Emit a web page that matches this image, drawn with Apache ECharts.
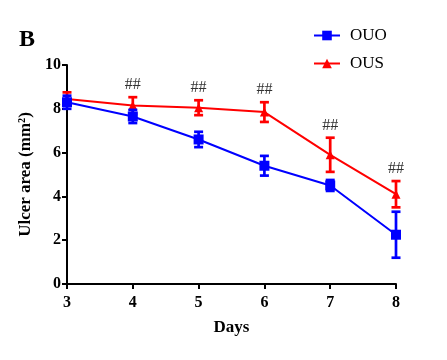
<!DOCTYPE html>
<html><head><meta charset="utf-8">
<script src="https://cdn.jsdelivr.net/npm/echarts@6/dist/echarts.min.js"></script>
<style>html,body{margin:0;padding:0;background:#fff}#c{width:447px;height:360px}</style>
</head><body><div id="c"></div>
<script>
var days = [3, 4, 5, 6, 7, 8];
var ouoMean = [8.3, 7.65, 6.6, 5.4, 4.5, 2.25];
var ouoErr = [0.3, 0.3, 0.35, 0.45, 0.25, 1.05];
var ousMean = [8.45, 8.15, 8.05, 7.85, 5.9, 4.1];
var ousErr = [0.3, 0.38, 0.34, 0.45, 0.78, 0.6];
var sigLabels = ['', '##', '##', '##', '##', '##'];
var yTicks = [0, 2, 4, 6, 8, 10];

var FONT = '"Liberation Serif", "Times New Roman", serif';
var chart = echarts.init(document.getElementById('c'));

function errData(mean, err, labels) {
  return days.map(function (d, i) { return [d, mean[i] - err[i], mean[i] + err[i], labels ? labels[i] : '']; });
}
function errRender(color) {
  return function (params, api) {
    var x = api.value(0);
    var lo = api.coord([x, api.value(1)]);
    var hi = api.coord([x, api.value(2)]);
    var w = 4.5;
    var st = { stroke: color, lineWidth: 2.7 };
    var children = [
      { type: 'line', shape: { x1: lo[0], y1: lo[1], x2: hi[0], y2: hi[1] }, style: st },
      { type: 'line', shape: { x1: lo[0] - w, y1: lo[1], x2: lo[0] + w, y2: lo[1] }, style: st },
      { type: 'line', shape: { x1: hi[0] - w, y1: hi[1], x2: hi[0] + w, y2: hi[1] }, style: st }
    ];
    var lbl = api.value(3);
    if (lbl) {
      children.push({ type: 'text', style: { text: lbl, x: hi[0], y: hi[1] - 12, align: 'center', verticalAlign: 'middle', fill: '#333', font: '16px ' + FONT } });
    }
    return { type: 'group', children: children };
  };
}

chart.setOption({
  animation: false,
  graphic: [{ type: 'text', left: 19, top: 28, style: { text: 'B', font: 'bold 24px ' + FONT, fill: '#000' } }],
  legend: {
    data: ['OUO', 'OUS'], orient: 'vertical', left: 308, top: 22, itemGap: 11, itemWidth: 26, itemHeight: 12,
    textStyle: { fontFamily: FONT, fontSize: 17, color: '#000', padding: [0, 0, 0, 5] }
  },
  grid: { left: 67, right: 51, top: 65, bottom: 76 },
  xAxis: {
    type: 'value', min: 3, max: 8, interval: 1,
    name: 'Days', nameLocation: 'middle', nameGap: 35,
    nameTextStyle: { fontFamily: FONT, fontSize: 17, fontWeight: 'bold', color: '#000' },
    axisLine: { lineStyle: { color: '#000', width: 2 } },
    axisTick: { length: 5, lineStyle: { color: '#000', width: 2 } },
    axisLabel: { fontFamily: FONT, fontSize: 16, fontWeight: 'bold', color: '#000', margin: 11 },
    splitLine: { show: false }
  },
  yAxis: {
    type: 'value', min: 0, max: 10, interval: 2,
    name: 'Ulcer area (mm²)', nameLocation: 'middle', nameGap: 31,
    nameTextStyle: { fontFamily: FONT, fontSize: 17, fontWeight: 'bold', color: '#000' },
    axisLine: { show: true, lineStyle: { color: '#000', width: 2 } },
    axisTick: { show: true, length: 5, lineStyle: { color: '#000', width: 2 } },
    axisLabel: { fontFamily: FONT, fontSize: 16, fontWeight: 'bold', color: '#000', margin: 6,
      formatter: function (v) { return yTicks.indexOf(v) >= 0 ? String(v) : ''; } },
    splitLine: { show: false }
  },
  series: [
    { name: 'OUS', type: 'line', data: days.map(function (d, i) { return [d, ousMean[i]]; }),
      symbol: 'triangle', symbolSize: 9, itemStyle: { color: '#ff0000' }, lineStyle: { color: '#ff0000', width: 2 }, z: 2 },
    { name: 'OUS_err', type: 'custom', data: errData(ousMean, ousErr, sigLabels), renderItem: errRender('#ff0000'), z: 2, silent: true },
    { name: 'OUO', type: 'line', data: days.map(function (d, i) { return [d, ouoMean[i]]; }),
      symbol: 'rect', symbolSize: 10, itemStyle: { color: '#0000ff' }, lineStyle: { color: '#0000ff', width: 2 }, z: 3 },
    { name: 'OUO_err', type: 'custom', data: errData(ouoMean, ouoErr), renderItem: errRender('#0000ff'), z: 3, silent: true }
  ]
});
</script></body></html>
